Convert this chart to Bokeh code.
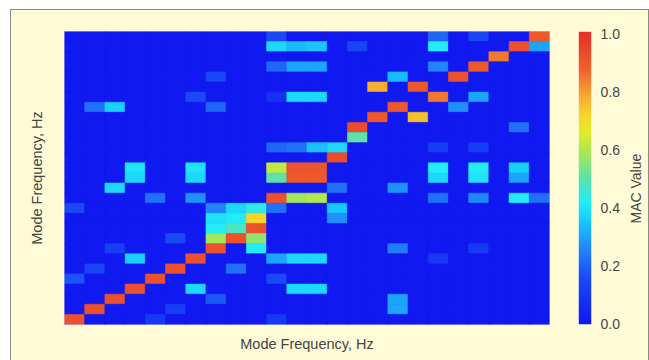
import numpy as np
from bokeh.plotting import figure
from bokeh.models import Range1d, LinearColorMapper, FixedTicker, ColumnDataSource
from bokeh.core.properties import value
from bokeh.layouts import row
from bokeh.embed import file_html
from bokeh.resources import INLINE

# MAC matrix size: modes of set A along x, modes of set B down the y axis
N_COLS = 24
N_ROWS = 29

# Non-zero MAC entries (column index, row index counted from the top, value)
mode_col = [
    0, 1, 2, 3, 4, 5, 6, 7, 8, 9, 10, 11, 12, 11, 12, 13, 14, 15, 16, 17, 18, 19, 20, 21, 22, 23,
    15, 17, 16, 14, 13, 12, 11, 10,
    7, 8, 9, 7, 8, 9, 7, 8, 8, 9, 7, 9,
    10, 18, 20,
    10, 11, 12, 14, 18, 23,
    10, 11, 12, 18,
    7,
    6, 10, 11, 12, 20,
    1, 2, 7, 19,
    22,
    18, 20,
    3, 6, 10, 18, 20, 22,
    3, 6, 10, 18, 20, 22,
    2, 13, 16,
    4, 6, 11, 12, 18, 20, 22, 23,
    0, 10, 13,
    13,
    5,
    2, 16, 20,
    3, 10, 11, 12, 18,
    1, 8,
    0, 10,
    6, 11, 12,
    7, 16,
    5, 16,
    4, 10,
]
mode_row = [
    28, 27, 26, 25, 24, 23, 22, 21, 20, 19, 16, 13, 13, 14, 14, 12, 9, 8, 7, 5, 6, 4, 3, 2, 1, 0,
    5, 8, 4, 10, 11, 11, 11, 11,
    17, 17, 17, 18, 18, 18, 19, 19, 20, 20, 20, 21,
    0, 0, 0,
    1, 1, 1, 1, 1, 1,
    3, 3, 3, 3,
    4,
    6, 6, 6, 6, 6,
    7, 7, 7, 7,
    9,
    11, 11,
    13, 13, 13, 13, 13, 13,
    14, 14, 14, 14, 14, 14,
    15, 15, 15,
    16, 16, 16, 16, 16, 16, 16, 16,
    17, 17, 17,
    18,
    20,
    21, 21, 21,
    22, 22, 22, 22, 22,
    23, 23,
    24, 24,
    25, 25, 25,
    26, 26,
    27, 27,
    28, 28,
]
mac_val = [
    0.92, 0.92, 0.92, 0.92, 0.92, 0.92, 0.92, 0.92, 0.92, 0.92, 0.92, 0.91, 0.91, 0.90, 0.90, 0.93, 0.93, 0.90, 0.90, 0.90, 0.85, 0.92, 0.90, 0.85, 0.92, 0.90,
    0.78, 0.75, 0.33, 0.50, 0.38, 0.34, 0.22, 0.20,
    0.25, 0.38, 0.44, 0.40, 0.42, 0.72, 0.42, 0.48, 0.92, 0.56, 0.58, 0.42,
    0.15, 0.20, 0.14,
    0.38, 0.33, 0.35, 0.14, 0.42, 0.30,
    0.20, 0.30, 0.30, 0.25,
    0.15,
    0.15, 0.08, 0.38, 0.38, 0.30,
    0.22, 0.36, 0.20, 0.27,
    0.22,
    0.12, 0.12,
    0.40, 0.40, 0.62, 0.42, 0.42, 0.36,
    0.38, 0.38, 0.50, 0.38, 0.40, 0.30,
    0.38, 0.22, 0.27,
    0.22, 0.27, 0.58, 0.60, 0.22, 0.26, 0.42, 0.22,
    0.15, 0.22, 0.35,
    0.27,
    0.15,
    0.12, 0.24, 0.10,
    0.36, 0.30, 0.38, 0.38, 0.10,
    0.14, 0.22,
    0.17, 0.15,
    0.38, 0.38, 0.38,
    0.18, 0.30,
    0.12, 0.30,
    0.10, 0.10,
]

colorbar_ticks = [0.0, 0.2, 0.4, 0.6, 0.8, 1.0]
colorbar_labels = ["0.0", "0.2", "0.4", "0.6", "0.8", "1.0"]

axis_title = "Mode Frequency, Hz"
colorbar_title = "MAC Value"

CREAM = "#fffbd6"
TEXT = "#454545"
FONT = "Liberation Sans"

# blue -> cyan -> green -> yellow -> orange -> red colour ramp
anchors = [
    (0.00, (16, 26, 240)),
    (0.15, (26, 72, 246)),
    (0.25, (34, 130, 250)),
    (0.35, (24, 200, 255)),
    (0.42, (36, 236, 246)),
    (0.50, (92, 226, 172)),
    (0.58, (162, 230, 92)),
    (0.66, (226, 236, 40)),
    (0.72, (246, 214, 40)),
    (0.80, (246, 160, 50)),
    (0.88, (240, 96, 46)),
    (1.00, (228, 50, 40)),
]
pos = [a[0] for a in anchors]
chan = np.array([a[1] for a in anchors], dtype=float)
levels = np.linspace(0, 1, 256)
rgb = np.stack([np.interp(levels, pos, chan[:, k]) for k in range(3)], axis=1)
palette = ["#%02x%02x%02x" % tuple(int(round(v)) for v in c) for c in rgb]
mapper = LinearColorMapper(palette=palette, low=0.0, high=1.0)

# full matrix: every cell drawn, zero where no correlation was listed
mac = np.zeros((N_ROWS, N_COLS))
for c, r, v in zip(mode_col, mode_row, mac_val):
    mac[r, c] = v
cc, rr = np.meshgrid(np.arange(N_COLS), np.arange(N_ROWS))
src = ColumnDataSource(dict(
    x=cc.ravel() + 0.5,
    y=rr.ravel() + 0.5,
    v=mac.ravel(),
))

p = figure(
    width=549, height=350,
    x_range=Range1d(0, N_COLS), y_range=Range1d(N_ROWS, 0),
    output_backend="svg", toolbar_location=None,
    min_border_left=53, min_border_right=11, min_border_top=21, min_border_bottom=36,
    border_fill_color=CREAM, background_fill_color=palette[0],
)
p.rect(x="x", y="y", width=1, height=1, source=src,
       fill_color={"field": "v", "transform": mapper},
       line_color={"field": "v", "transform": mapper}, line_width=0.6)
p.xgrid.visible = False
p.ygrid.visible = False
p.outline_line_color = "#c4c2ea"
for ax in (p.xaxis[0], p.yaxis[0]):
    ax.ticker = FixedTicker(ticks=[])
    ax.axis_line_color = None
    ax.major_tick_line_color = None
    ax.minor_tick_line_color = None
    ax.axis_label = axis_title
    ax.axis_label_text_font = FONT
    ax.axis_label_text_font_style = "normal"
    ax.axis_label_text_font_size = "14.5px"
    ax.axis_label_text_color = TEXT
p.xaxis.axis_label_standoff = 11
p.yaxis.axis_label_standoff = 20

# colour bar as a narrow plot with its scale on the right
UNIT_PX = 290
y_lo, y_hi = -1 / UNIT_PX, 1 + 2 / UNIT_PX
cb = figure(
    width=62, height=350,
    x_range=Range1d(0, 1), y_range=Range1d(y_lo, y_hi),
    y_axis_location="right",
    output_backend="svg", toolbar_location=None,
    min_border_left=18, min_border_right=25, min_border_top=21, min_border_bottom=36,
    border_fill_color=CREAM,
)
grad = np.clip(np.linspace(y_lo, y_hi, 300), 0, 1).reshape(300, 1)
cb.image(image=[grad], x=0, y=y_lo, dw=1, dh=y_hi - y_lo, color_mapper=mapper)
cb.xaxis.visible = False
cb.grid.visible = False
cb.outline_line_color = None
ya = cb.yaxis[0]
ya.ticker = FixedTicker(ticks=colorbar_ticks)
ya.major_label_overrides = {t: s for t, s in zip(colorbar_ticks, colorbar_labels)}
ya.axis_line_color = None
ya.major_tick_line_color = None
ya.minor_tick_line_color = None
ya.major_label_standoff = 3
ya.major_label_text_font = FONT
ya.major_label_text_font_size = "14px"
ya.major_label_text_color = TEXT

# colour bar title, reading bottom to top, in its own strip
tt = figure(
    width=26, height=350,
    x_range=Range1d(0, 1), y_range=Range1d(y_lo, y_hi),
    output_backend="svg", toolbar_location=None,
    min_border_left=0, min_border_right=0, min_border_top=21, min_border_bottom=36,
    border_fill_color=CREAM, background_fill_color=CREAM,
)
tt.axis.visible = False
tt.grid.visible = False
tt.outline_line_color = None
tt.text(x=[0.5], y=[0.465], text=[colorbar_title], angle=np.pi / 2,
        text_align="center", text_baseline="middle",
        text_font=value(FONT), text_font_size="14px", text_color=TEXT)

layout = row(
    p, cb, tt,
    margin=(9, 0, 0, 10),
    styles={
        "background-color": CREAM,
        "border-top": "1px solid #8a8a8a",
        "border-left": "1px solid #8a8a8a",
        "border-right": "1px solid #8a8a8a",
    },
)

open("out.html", "w").write(file_html(layout, INLINE))
